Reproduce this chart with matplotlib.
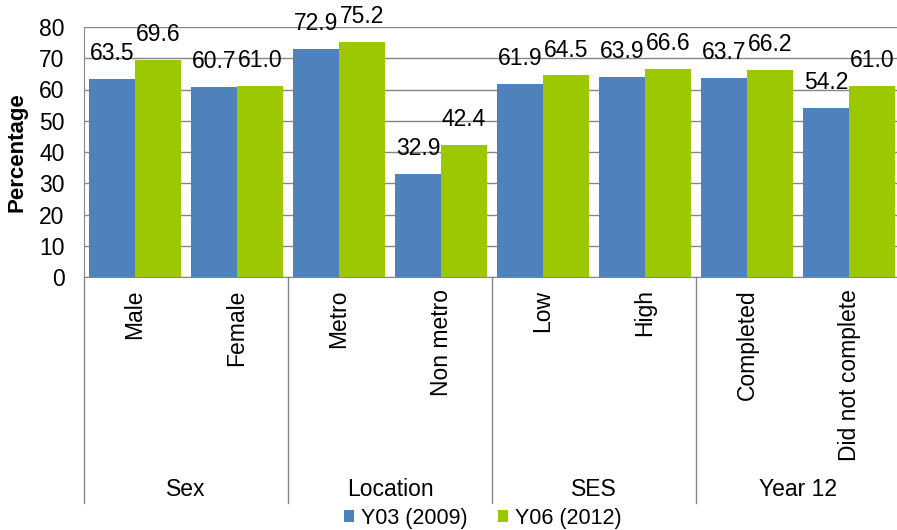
import matplotlib
matplotlib.use('Agg')
import matplotlib.pyplot as plt
import numpy as np

categories = ['Male', 'Female', 'Metro', 'Non metro', 'Low', 'High',
              'Completed', 'Did not complete']
groups = ['Sex', 'Location', 'SES', 'Year 12']
y03 = [63.5, 60.7, 72.9, 32.9, 61.9, 63.9, 63.7, 54.2]
y06 = [69.6, 61.0, 75.2, 42.4, 64.5, 66.6, 66.2, 61.0]
series_names = ['Y03 (2009)', 'Y06 (2012)']

plt.rcParams['font.family'] = ['Liberation Sans', 'DejaVu Sans']
FS = 16.5

fig = plt.figure(figsize=(8.97, 5.30), dpi=100)
ax = fig.add_axes([84 / 897, 1 - 277 / 530, 816 / 897, 250 / 530])

x = np.arange(len(categories))
w = 0.45
b1 = ax.bar(x - w / 2, y03, w, color='#4F81BD', label=series_names[0], zorder=3)
b2 = ax.bar(x + w / 2, y06, w, color='#9BC800', label=series_names[1], zorder=3)

# value labels above each bar
for bars, vals in ((b1, y03), (b2, y06)):
    for bar, v in zip(bars, vals):
        ax.annotate(f"{v:.1f}", xy=(bar.get_x() + bar.get_width() / 2, v),
                    xytext=(0, 10), textcoords='offset points',
                    ha='center', va='bottom', fontsize=FS, annotation_clip=False)

ax.set_xlim(-0.5, len(categories) - 0.5)
ax.set_ylim(0, 80)
ax.set_yticks(range(0, 81, 10))
ax.yaxis.grid(True, color='#868686', linewidth=1, zorder=0)
ax.set_axisbelow(True)
ax.tick_params(axis='y', length=0, labelsize=FS, pad=14)
ax.set_ylabel('Percentage', fontsize=FS - 0.5, fontweight='bold', labelpad=8)

ax.set_xticks(x)
ax.set_xticklabels(categories, rotation=90, fontsize=FS, va='top')
ax.tick_params(axis='x', length=0, pad=9)

for s in ['top', 'right']:
    ax.spines[s].set_visible(False)
ax.spines['left'].set_color('#868686')
ax.spines['bottom'].set_color('#868686')

# group separators and labels below the axis
trans = ax.get_xaxis_transform()
for b in np.arange(-0.5, len(categories), 2):
    ax.plot([b, b], [0, -0.904], color='#868686', linewidth=1,
            transform=trans, clip_on=False)
for i, g in enumerate(groups):
    ax.text(2 * i + 0.5, -0.852, g, transform=trans, ha='center', va='center',
            fontsize=FS)

fig.legend(loc='lower center', bbox_to_anchor=(0.538, 0.0), ncol=2,
           frameon=False, fontsize=15.5, handlelength=0.5, handleheight=0.5,
           handletextpad=0.3, columnspacing=1.4, borderpad=0.05,
           borderaxespad=0)

fig.savefig('out.png', dpi=100)
